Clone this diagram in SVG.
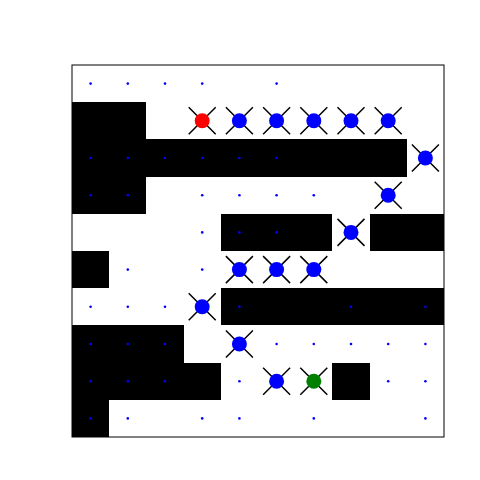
<svg xmlns="http://www.w3.org/2000/svg" xmlns:xlink="http://www.w3.org/1999/xlink" width="480" height="480" viewBox="0 0 480 480">
<style>
.wall{fill:#000000;shape-rendering:crispEdges}
.dot{fill:#0000ff}
.xm{stroke:#000000;stroke-width:1.5;fill:none}
.agent{stroke:none}
</style>
<defs>
<g id="x"><path class="xm" d="M-13.5,-13.5L13.5,13.5M-13.5,13.5L13.5,-13.5"/></g>
<circle id="d" class="dot" r="1.3"/>
</defs>
<rect x="0" y="0" width="480" height="480" fill="#ffffff"/>
<g id="walls">
<path class="wall" d="M72,102H146V139H407V177H146V214H72Z"/>
<rect class="wall" x="221" y="214" width="111" height="37"/>
<rect class="wall" x="370" y="214" width="74" height="37"/>
<rect class="wall" x="72" y="251" width="37" height="37"/>
<rect class="wall" x="221" y="288" width="223" height="37"/>
<path class="wall" d="M72,325H184V363H221V400H109V437H72Z"/>
<rect class="wall" x="332" y="363" width="38" height="37"/>
</g>
<g id="dots">
<use xlink:href="#d" x="90.6" y="83.6"/><use xlink:href="#d" x="127.8" y="83.6"/><use xlink:href="#d" x="165" y="83.6"/><use xlink:href="#d" x="202.2" y="83.6"/><use xlink:href="#d" x="276.6" y="83.6"/>
<use xlink:href="#d" x="90.6" y="158"/><use xlink:href="#d" x="127.8" y="158"/><use xlink:href="#d" x="165" y="158"/><use xlink:href="#d" x="202.2" y="158"/><use xlink:href="#d" x="239.4" y="158"/><use xlink:href="#d" x="276.6" y="158"/>
<use xlink:href="#d" x="90.6" y="195.2"/><use xlink:href="#d" x="127.8" y="195.2"/><use xlink:href="#d" x="202.2" y="195.2"/><use xlink:href="#d" x="239.4" y="195.2"/><use xlink:href="#d" x="276.6" y="195.2"/><use xlink:href="#d" x="313.8" y="195.2"/>
<use xlink:href="#d" x="202.2" y="232.4"/><use xlink:href="#d" x="239.4" y="232.4"/><use xlink:href="#d" x="276.6" y="232.4"/>
<use xlink:href="#d" x="127.8" y="269.6"/><use xlink:href="#d" x="202.2" y="269.6"/>
<use xlink:href="#d" x="90.6" y="306.8"/><use xlink:href="#d" x="127.8" y="306.8"/><use xlink:href="#d" x="165" y="306.8"/><use xlink:href="#d" x="239.4" y="306.8"/><use xlink:href="#d" x="351" y="306.8"/><use xlink:href="#d" x="425.4" y="306.8"/>
<use xlink:href="#d" x="90.6" y="344"/><use xlink:href="#d" x="127.8" y="344"/><use xlink:href="#d" x="165" y="344"/><use xlink:href="#d" x="276.6" y="344"/><use xlink:href="#d" x="313.8" y="344"/><use xlink:href="#d" x="351" y="344"/><use xlink:href="#d" x="388.2" y="344"/><use xlink:href="#d" x="425.4" y="344"/>
<use xlink:href="#d" x="90.6" y="381.2"/><use xlink:href="#d" x="127.8" y="381.2"/><use xlink:href="#d" x="165" y="381.2"/><use xlink:href="#d" x="239.4" y="381.2"/><use xlink:href="#d" x="388.2" y="381.2"/><use xlink:href="#d" x="425.4" y="381.2"/>
<use xlink:href="#d" x="90.6" y="418.4"/><use xlink:href="#d" x="127.8" y="418.4"/><use xlink:href="#d" x="202.2" y="418.4"/><use xlink:href="#d" x="239.4" y="418.4"/><use xlink:href="#d" x="313.8" y="418.4"/><use xlink:href="#d" x="425.4" y="418.4"/>
</g>
<g id="crosses">
<use xlink:href="#x" x="202.2" y="120.8"/><use xlink:href="#x" x="239.4" y="120.8"/><use xlink:href="#x" x="276.6" y="120.8"/><use xlink:href="#x" x="313.8" y="120.8"/><use xlink:href="#x" x="351" y="120.8"/><use xlink:href="#x" x="388.2" y="120.8"/>
<use xlink:href="#x" x="425.4" y="158"/>
<use xlink:href="#x" x="388.2" y="195.2"/>
<use xlink:href="#x" x="351" y="232.4"/>
<use xlink:href="#x" x="239.4" y="269.6"/><use xlink:href="#x" x="276.6" y="269.6"/><use xlink:href="#x" x="313.8" y="269.6"/>
<use xlink:href="#x" x="202.2" y="306.8"/>
<use xlink:href="#x" x="239.4" y="344"/>
<use xlink:href="#x" x="276.6" y="381.2"/><use xlink:href="#x" x="313.8" y="381.2"/>
</g>
<g id="path-nodes">
<circle class="agent" cx="202.2" cy="120.8" r="7.5" fill="#ff0000"/>
<circle class="agent" cx="239.4" cy="120.8" r="7.5" fill="#0000ff"/>
<circle class="agent" cx="276.6" cy="120.8" r="7.5" fill="#0000ff"/>
<circle class="agent" cx="313.8" cy="120.8" r="7.5" fill="#0000ff"/>
<circle class="agent" cx="351" cy="120.8" r="7.5" fill="#0000ff"/>
<circle class="agent" cx="388.2" cy="120.8" r="7.5" fill="#0000ff"/>
<circle class="agent" cx="425.4" cy="158" r="7.5" fill="#0000ff"/>
<circle class="agent" cx="388.2" cy="195.2" r="7.5" fill="#0000ff"/>
<circle class="agent" cx="351" cy="232.4" r="7.5" fill="#0000ff"/>
<circle class="agent" cx="239.4" cy="269.6" r="7.5" fill="#0000ff"/>
<circle class="agent" cx="276.6" cy="269.6" r="7.5" fill="#0000ff"/>
<circle class="agent" cx="313.8" cy="269.6" r="7.5" fill="#0000ff"/>
<circle class="agent" cx="202.2" cy="306.8" r="7.5" fill="#0000ff"/>
<circle class="agent" cx="239.4" cy="344" r="7.5" fill="#0000ff"/>
<circle class="agent" cx="276.6" cy="381.2" r="7.5" fill="#0000ff"/>
<circle class="agent" cx="313.8" cy="381.2" r="7.5" fill="#008000"/>
</g>
<rect id="frame" x="72" y="65" width="372" height="372" fill="none" stroke="#000000" stroke-width="1"/>
</svg>
